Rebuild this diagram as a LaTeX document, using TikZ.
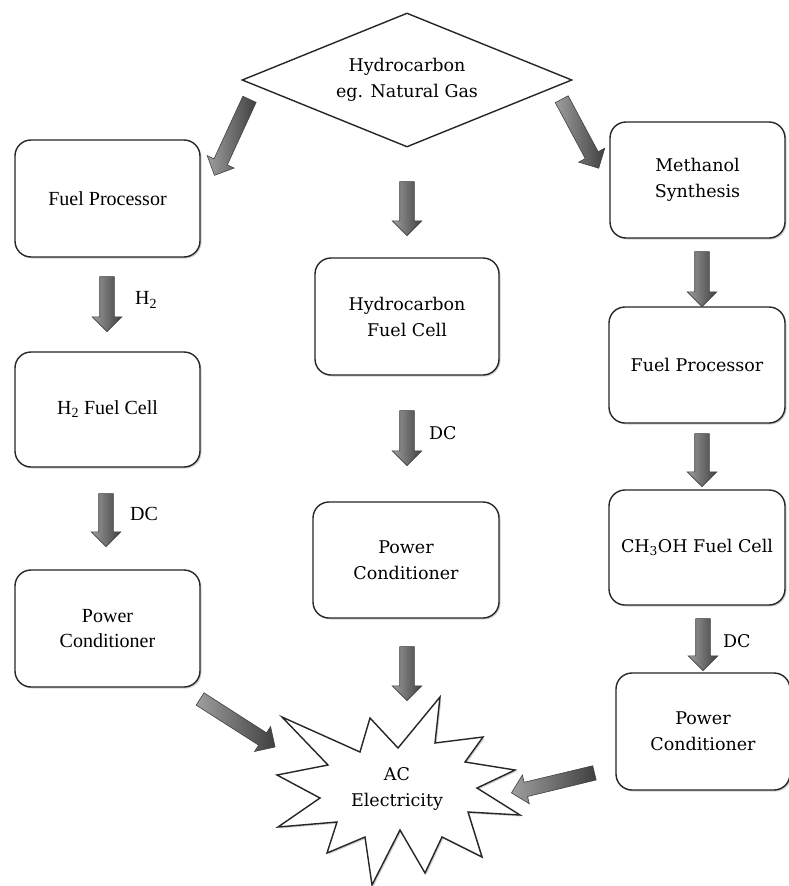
\documentclass[tikz,border=0pt]{standalone}
\usepackage{fontspec}
\setmainfont{Liberation Serif}
\newfontfamily\camfont{DejaVu Serif}
\usetikzlibrary{shapes.geometric,shapes.arrows,calc,shadows}

\tikzset{
  box/.style={draw=black!85, line width=1.4pt, rounded corners=16pt, fill=white,
    align=center, inner sep=0pt,
    drop shadow={shadow xshift=1.5pt, shadow yshift=-1.5pt, opacity=0.18, fill=black}},
  tnr/.style={font=\fontsize{20}{25}\selectfont},
  cam/.style={font=\camfont\fontsize{17.5}{26}\selectfont},
  lbl/.style={anchor=west, inner sep=0pt},
  fatarrow/.style={single arrow, draw=black!75, line width=0.6pt,
    minimum width=29pt, single arrow head extend=7.5pt, inner xsep=0pt, inner ysep=7pt,
    left color=black!38, right color=black!75},
}

\newcommand{\fatarr}[3]{%
  \path let \p1=(#1), \p2=(#2),
    \n1={atan2(\y2-\y1,\x2-\x1)}, \n2={veclen(\x2-\x1,\y2-\y1)} in
    node[fatarrow, minimum height=\n2, rotate=\n1] (#3) at ($(#1)!0.5!(#2)$) {};}

\begin{document}
\begin{tikzpicture}[x=1pt,y=-1pt]
\useasboundingbox[fill=white] (0,0) rectangle (789,886);

% source diamond
\node[diamond, draw=black!85, line width=1.4pt, aspect=2.46, minimum width=330pt,
  minimum height=134pt, inner sep=0pt, align=center, cam, fill=white] (src) at (407,80)
  {Hydrocarbon\\eg. Natural Gas};

% left column
\node[box, tnr, minimum width=185pt, minimum height=117pt] (L1) at (107.5,198.5) {Fuel Processor};
\node[box, tnr, minimum width=185pt, minimum height=115pt] (L2) at (107.5,409.5) {H\textsubscript{2} Fuel Cell};
\node[box, tnr, minimum width=185pt, minimum height=117pt] (L3) at (107.5,628.5) {Power\\Conditioner};

% middle column
\node[box, cam, minimum width=184pt, minimum height=117pt] (M1) at (407,316.5) {Hydrocarbon\\Fuel Cell};
\node[box, cam, minimum width=186pt, minimum height=116pt] (M2) at (406,560) {Power\\Conditioner};

% right column
\node[box, cam, minimum width=175pt, minimum height=116pt] (R1) at (697.5,180) {Methanol\\Synthesis};
\node[box, cam, minimum width=176pt, minimum height=116pt] (R2) at (697,365) {Fuel Processor};
\node[box, cam, minimum width=176pt, minimum height=115pt] (R3) at (697,547.5) {CH\textsubscript{3}OH Fuel Cell};
\node[box, cam, minimum width=174pt, minimum height=117pt] (R4) at (703,731.5) {Power\\Conditioner};

% AC star
\draw[draw=black!85, line width=1.4pt, fill=white,
  drop shadow={shadow xshift=1.5pt, shadow yshift=-1.5pt, opacity=0.18, fill=black}]
  (282,717) -- (360,752) -- (370,718) -- (398,748) -- (440,697) -- (435,743)
  -- (483,737) -- (465,762) -- (515,770) -- (477,788) -- (520,815) -- (468,812)
  -- (482,857) -- (442,837) -- (425,873) -- (400,830) -- (372,885) -- (365,837)
  -- (327,853) -- (337,822) -- (278,827) -- (320,798) -- (277,775) -- (328,765) -- cycle;
\node[cam, align=center] (ac) at (397,789) {AC\\Electricity};

% arrow end points
\coordinate (a1s) at (251,96);   \coordinate (a1e) at (216,172);
\coordinate (a2s) at (407,178);  \coordinate (a2e) at (407,232);
\coordinate (a3s) at (560,96);   \coordinate (a3e) at (597,165);
\coordinate (a4s) at (107,273);  \coordinate (a4e) at (107,328);
\coordinate (a5s) at (106,490);  \coordinate (a5e) at (106,543);
\coordinate (a6s) at (197,697);  \coordinate (a6e) at (272,745);
\coordinate (a7s) at (407,407);  \coordinate (a7e) at (407,462);
\coordinate (a8s) at (407,643);  \coordinate (a8e) at (407,697);
\coordinate (a9s) at (702,248);  \coordinate (a9e) at (702,303);
\coordinate (a10s) at (702,430); \coordinate (a10e) at (702,483);
\coordinate (a11s) at (703,615); \coordinate (a11e) at (703,667);
\coordinate (a12s) at (598,772); \coordinate (a12e) at (515,792);

\fatarr{a1s}{a1e}{ar1}
\fatarr{a2s}{a2e}{ar2}
\fatarr{a3s}{a3e}{ar3}
\fatarr{a4s}{a4e}{ar4}
\fatarr{a5s}{a5e}{ar5}
\fatarr{a6s}{a6e}{ar6}
\fatarr{a7s}{a7e}{ar7}
\fatarr{a8s}{a8e}{ar8}
\fatarr{a9s}{a9e}{ar9}
\fatarr{a10s}{a10e}{ar10}
\fatarr{a11s}{a11e}{ar11}
\fatarr{a12s}{a12e}{ar12}

% labels
\node[lbl, tnr] (h2) at (135,300) {H\textsubscript{2}};
\node[lbl, tnr] (dc1) at (130,514) {DC};
\node[lbl, cam] (dc2) at (429,433) {DC};
\node[lbl, cam] (dc3) at (723,641) {DC};
\end{tikzpicture}
\end{document}
